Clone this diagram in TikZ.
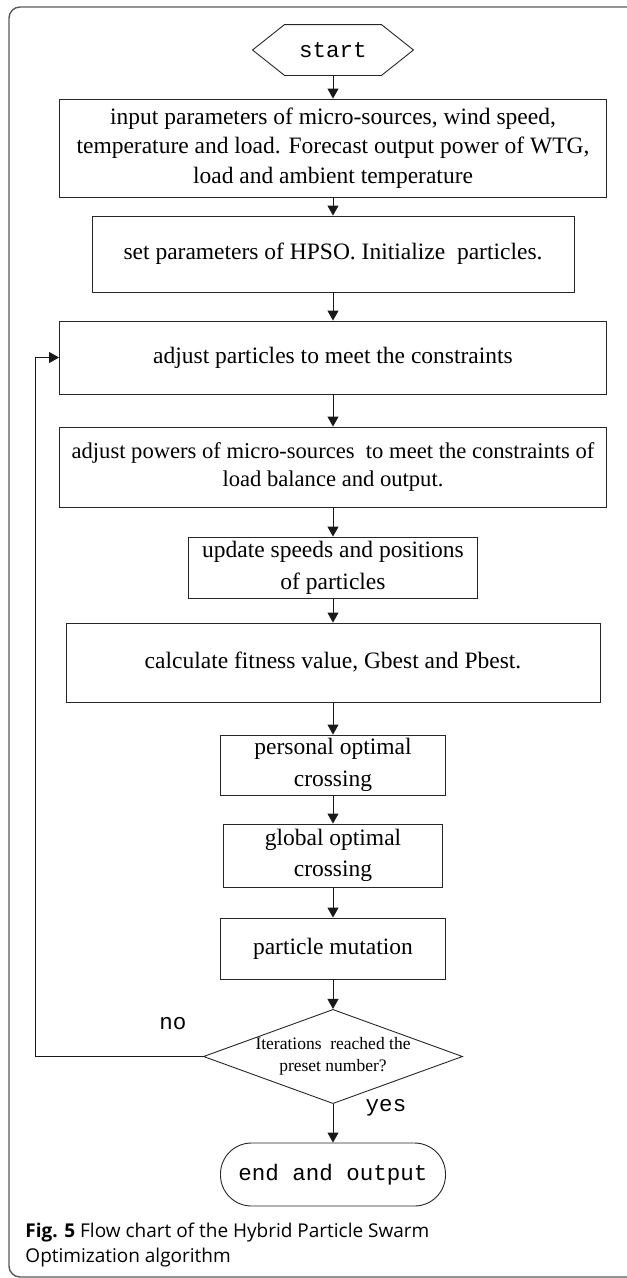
\documentclass[tikz,border=0pt]{standalone}
\usepackage{fontspec}
\setmainfont{Liberation Serif}
\newfontfamily\monofont{Liberation Mono}
\newfontfamily\capfont{Open Sans}
\usetikzlibrary{arrows.meta,shapes.geometric,calc}
\begin{document}
\begin{tikzpicture}[x=1bp,y=-1bp,
  line width=0.9bp,
  flow/.style={draw=black!90, line width=0.9bp, -{Triangle[length=10bp,width=11bp]}},
  procbox/.style={draw=black!85, line width=0.9bp, rectangle, align=center, inner sep=0pt,
    font=\fontsize{23.5bp}{29.5bp}\selectfont},
  monotext/.style={font=\monofont\fontsize{22.5bp}{26bp}\selectfont},
]
\useasboundingbox (0,0) rectangle (627,1278);
% page frame
\begin{scope}
\clip (0,0) rectangle (627,1278);
\draw[black!65, line width=1.4bp, rounded corners=11bp] (9,7) rectangle (660,1277);
\end{scope}

% start terminal (hexagon)
\node[minimum width=160bp, minimum height=50bp, inner sep=0pt, monotext] (st) at (333,50) {start};
\draw[black!85, line width=0.9bp] (st.west) -- ($(st.north west)+(32,0)$) -- ($(st.north east)+(-32,0)$)
  -- (st.east) -- ($(st.south east)+(-32,0)$) -- ($(st.south west)+(32,0)$) -- cycle;

\node[procbox, minimum width=547bp, minimum height=98bp] (b1) at (333,148)
  {input parameters of micro-sources, wind speed,\\temperature and load. Forecast output power of WTG,\\load and ambient temperature};
\node[procbox, minimum width=482bp, minimum height=76bp] (b2) at (333,254)
  {set parameters of HPSO. Initialize\ \ particles.};
\node[procbox, minimum width=547bp, minimum height=73bp] (b3) at (333,357.5)
  {adjust particles to meet the constraints};
\node[procbox, minimum width=547bp, minimum height=80bp, font=\fontsize{22.6bp}{27.5bp}\selectfont] (b4) at (333,467)
  {adjust powers of micro-sources\ \ to meet the constraints of\\load balance and output.};
\node[procbox, minimum width=289bp, minimum height=61bp, font=\fontsize{23.5bp}{32bp}\selectfont] (b5) at (333,567.5)
  {update speeds and positions\\of particles};
\node[procbox, minimum width=534bp, minimum height=79bp] (b6) at (333,662.5)
  {calculate fitness value, Gbest and Pbest.};
\node[procbox, minimum width=225bp, minimum height=60bp, font=\fontsize{23.5bp}{32bp}\selectfont] (b7) at (333,765)
  {personal optimal\\crossing};
\node[procbox, minimum width=219bp, minimum height=63bp, font=\fontsize{23.5bp}{31bp}\selectfont] (b8) at (333,855.5)
  {global optimal\\crossing};
\node[procbox, minimum width=225bp, minimum height=61bp] (b9) at (333,948.5)
  {particle mutation};

% decision
\node[draw=black!85, line width=0.9bp, diamond, minimum width=250bp, minimum height=91bp, inner sep=0pt,
  aspect=2.75, align=center, font=\fontsize{17.5bp}{22bp}\selectfont] (dec) at (333,1056.5)
  {Iterations\ \ reached the\\preset number?};

% end terminal
\node[draw=black!85, line width=0.9bp, rectangle, rounded corners=31bp, minimum width=225bp,
  minimum height=63bp, inner sep=0pt, monotext] (en) at (333,1174.5) {end and output};

% connectors
\draw[flow] (st) -- (b1);
\draw[flow] (b1) -- (b2);
\draw[flow] (b2) -- (b3);
\draw[flow] (b3) -- (b4);
\draw[flow] (b4) -- (b5);
\draw[flow] (b5) -- (b6);
\draw[flow] (b6) -- (b7);
\draw[flow] (b7) -- (b8);
\draw[flow] (b8) -- (b9);
\draw[flow] (b9) -- (dec);
\draw[flow] (dec) -- (en);
\coordinate (lp) at (35,1056.5);
\draw[flow] (dec.west) -- (lp) |- (b3.west);

% branch labels
\node[monotext] (no) at (173,1024) {no};
\node[monotext] (yes) at (386,1108) {yes};

% caption
\node[anchor=west, inner sep=0pt, align=left, font=\capfont\fontsize{19bp}{25bp}\selectfont] (cap) at (25,1244.5)
  {{\bfseries Fig. 5} Flow chart of the Hybrid Particle Swarm\\Optimization algorithm};
\end{tikzpicture}
\end{document}
